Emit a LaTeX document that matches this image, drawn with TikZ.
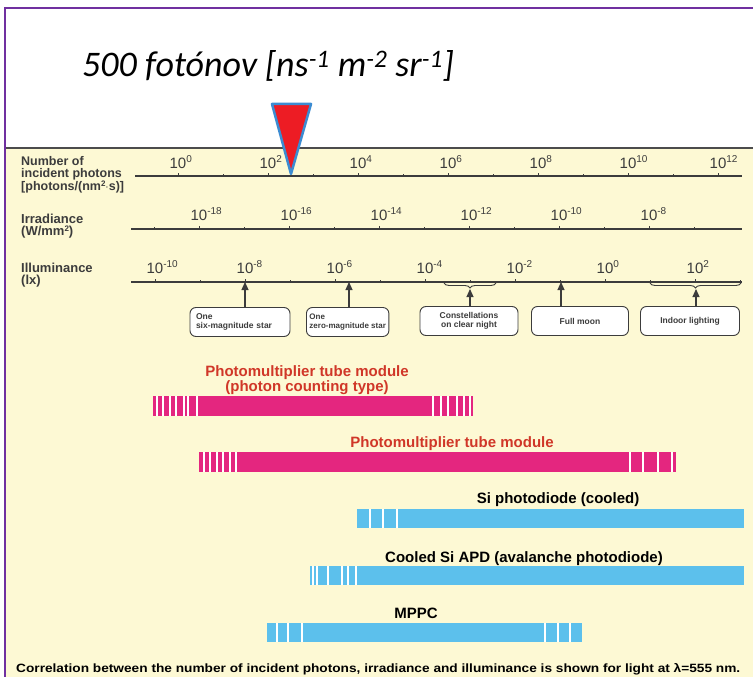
\documentclass[tikz,border=0pt]{standalone}
\usepackage{fontspec}
\setmainfont{Liberation Sans}
\newfontfamily\carlito{Carlito}
\usetikzlibrary{arrows.meta,decorations.pathreplacing,positioning}

\definecolor{framepurple}{RGB}{112,48,160}
\definecolor{panelyellow}{RGB}{253,249,212}
\definecolor{axgray}{RGB}{60,60,60}
\definecolor{trired}{RGB}{237,28,36}
\definecolor{triblue}{RGB}{60,140,210}
\definecolor{pmtpink}{RGB}{228,38,127}
\definecolor{pmtred}{RGB}{208,55,40}
\definecolor{siblue}{RGB}{92,192,236}

\tikzset{
  axline/.style={line width=1.1, draw=axgray},
  axtick/.style={line width=1, draw=axgray},
  axtitle/.style={font=\fontsize{13}{12.5}\selectfont\bfseries, align=left, inner sep=0, anchor=north west, text=axgray},
  ticklab/.style={font=\fontsize{15}{15}\selectfont, inner sep=0, anchor=base, text=axgray},
  srcbox/.style={draw=axgray, rounded corners=6, line width=0.9, fill=white, minimum height=29, inner sep=2, font=\fontsize{8.5}{9}\selectfont\bfseries, text=axgray},
  pointer/.style={-{Triangle[length=8,width=7]}, line width=1.1, draw=axgray, fill=axgray},
  lxbrace/.style={decorate, decoration={brace, mirror, amplitude=5}, line width=0.9, draw=axgray},
  barlab/.style={font=\fontsize{15}{13}\selectfont\bfseries, inner sep=0, align=center},
  gap/.style={white, line width=1.4},
}
\newcommand{\tpow}[1]{10\rlap{\raisebox{.4em}{\fontsize{10}{10}\selectfont#1}}}
\newcommand{\sqsup}{\raisebox{.35em}{\fontsize{8}{8}\selectfont 2}}

\begin{document}
\begin{tikzpicture}[x=1pt,y=-1pt]
\useasboundingbox (0,0) rectangle (753,677);
\fill[white] (0,0) rectangle (753,677);

% frame and chart panel
\fill[panelyellow] (6,148) rectangle (753,677);
\draw[line width=2, draw=gray!60!black] (6,148) -- (753,148);
\draw[line width=2.6, draw=framepurple] (5,677) -- (5,8) -- (753,8);

\node[anchor=base west, inner sep=0] (title) at (82,77)
  {\carlito\itshape\fontsize{36}{36}\selectfont 500 fotónov [ns\textsuperscript{-1} m\textsuperscript{-2} sr\textsuperscript{-1}]};

% marker on the photon axis
\draw[line width=2.5, draw=triblue, fill=trired, line join=round] (272,104) -- (311,104) -- (291,174) -- cycle;

% axis titles
\node[axtitle, font=\fontsize{12.5}{12}\selectfont\bfseries] (phtitle) at (21,156) {Number of\\incident photons\\{}[photons/(nm\sqsup$\cdot$s)]};
\node[axtitle] (irtitle) at (21,213.5) {Irradiance\\(W/mm\sqsup)};
\node[axtitle] (lxtitle) at (21,262.5) {Illuminance\\(lx)};

% photons axis
\draw[axline] (135,176) -- (742,176);
\foreach \e [count=\i from 0] in {0,2,...,12} {
  \draw[axtick] (178+90*\i,176) -- ++(0,-3);
  \node[ticklab] (ph\i) at (178+90*\i,168) {\tpow{\e}};
}
\foreach \i in {0,...,5} \draw[axtick] (223+90*\i,176) -- ++(0,-2.5);

% irradiance axis
\draw[axline] (131,229) -- (742,229);
\foreach \e [count=\i from 0] in {-18,-16,...,-8} {
  \draw[axtick] (199+90*\i,229) -- ++(0,-3);
  \node[ticklab] (ir\i) at (199+90*\i,220) {\tpow{\e}};
}
\foreach \i in {0,...,6} \draw[axtick] (154+90*\i,229) -- ++(0,-2.5);

% illuminance axis
\draw[axline] (131,282) -- (742,282);
\foreach \e [count=\i from 0] in {-10,-8,...,2} {
  \draw[axtick] (155+90*\i,282) -- ++(0,-3);
  \node[ticklab] (lx\i) at (155+90*\i,273) {\tpow{\e}};
}
\foreach \i in {0,...,6} \draw[axtick] (200+90*\i,282) -- ++(0,-2.5);

% light sources
\node[srcbox, minimum width=100, text width=88, align=left] (sixstar) at (240,322) {One\\six-magnitude star};
\node[srcbox, anchor=west, inner xsep=3, align=left, font=\fontsize{8}{9}\selectfont\bfseries] (zerostar) at (306,322) {One\\zero-magnitude star};
\node[srcbox, minimum width=98, align=center] (constel) at (469,321) {Constellations\\on clear night};
\node[srcbox, minimum width=97] (fullmoon) at (580,321) {Full moon};
\node[srcbox, minimum width=99] (indoor) at (690,321) {Indoor lighting};

\coordinate (sixpt) at (245,282);
\coordinate (zeropt) at (349,282);
\coordinate (conpt) at (470,289);
\coordinate (moonpt) at (561,282);
\coordinate (indpt) at (696,289);

\draw[lxbrace] (444,283) -- (496,283);
\draw[lxbrace] (650,283) -- (741,283);

\draw[pointer] (sixstar.north -| sixpt) -- (sixpt);
\draw[pointer] (zerostar.north -| zeropt) -- (zeropt);
\draw[pointer] (constel.north -| conpt) -- (conpt);
\draw[pointer] (fullmoon.north -| moonpt) -- (moonpt);
\draw[pointer] (indoor.north -| indpt) -- (indpt);

% detector ranges
\node[barlab, text=pmtred, anchor=north] (pmtpclab) at (307,365) {Photomultiplier tube module\\(photon counting type)};
\fill[pmtpink] (153,396) rectangle (473,416);
\foreach \sx in {157,163,170,176,184,188,197,433,441,448,457,464,470} \draw[gap] (\sx,396) -- (\sx,416);

\node[barlab, text=pmtred, anchor=base] (pmtlab) at (452,447) {Photomultiplier tube module};
\fill[pmtpink] (199,452) rectangle (676,472);
\foreach \sx in {204,210,217,223,230,236,630,643,658,672} \draw[gap] (\sx,452) -- (\sx,472);

\node[barlab, anchor=base] (silab) at (558,503) {Si photodiode (cooled)};
\fill[siblue] (357,509) rectangle (744,528);
\foreach \sx in {370,383,397} \draw[gap] (\sx,509) -- (\sx,528);

\node[barlab, anchor=base] (apdlab) at (524,562) {Cooled Si APD (avalanche photodiode)};
\fill[siblue] (310,566) rectangle (744,585);
\foreach \sx in {313,317,328,342,348,356} \draw[gap] (\sx,566) -- (\sx,585);

\node[barlab, anchor=base] (mppclab) at (416,618) {MPPC};
\fill[siblue] (267,623) rectangle (582,642);
\foreach \sx in {277,288,302,545,558,570} \draw[gap] (\sx,623) -- (\sx,642);

\node[anchor=base west, inner sep=0, font=\fontsize{12}{12}\selectfont\bfseries] (caption) at (16,672)
  {\resizebox{724pt}{\height}{Correlation between the number of incident photons, irradiance and illuminance is shown for light at λ=555 nm.}};
\end{tikzpicture}
\end{document}
